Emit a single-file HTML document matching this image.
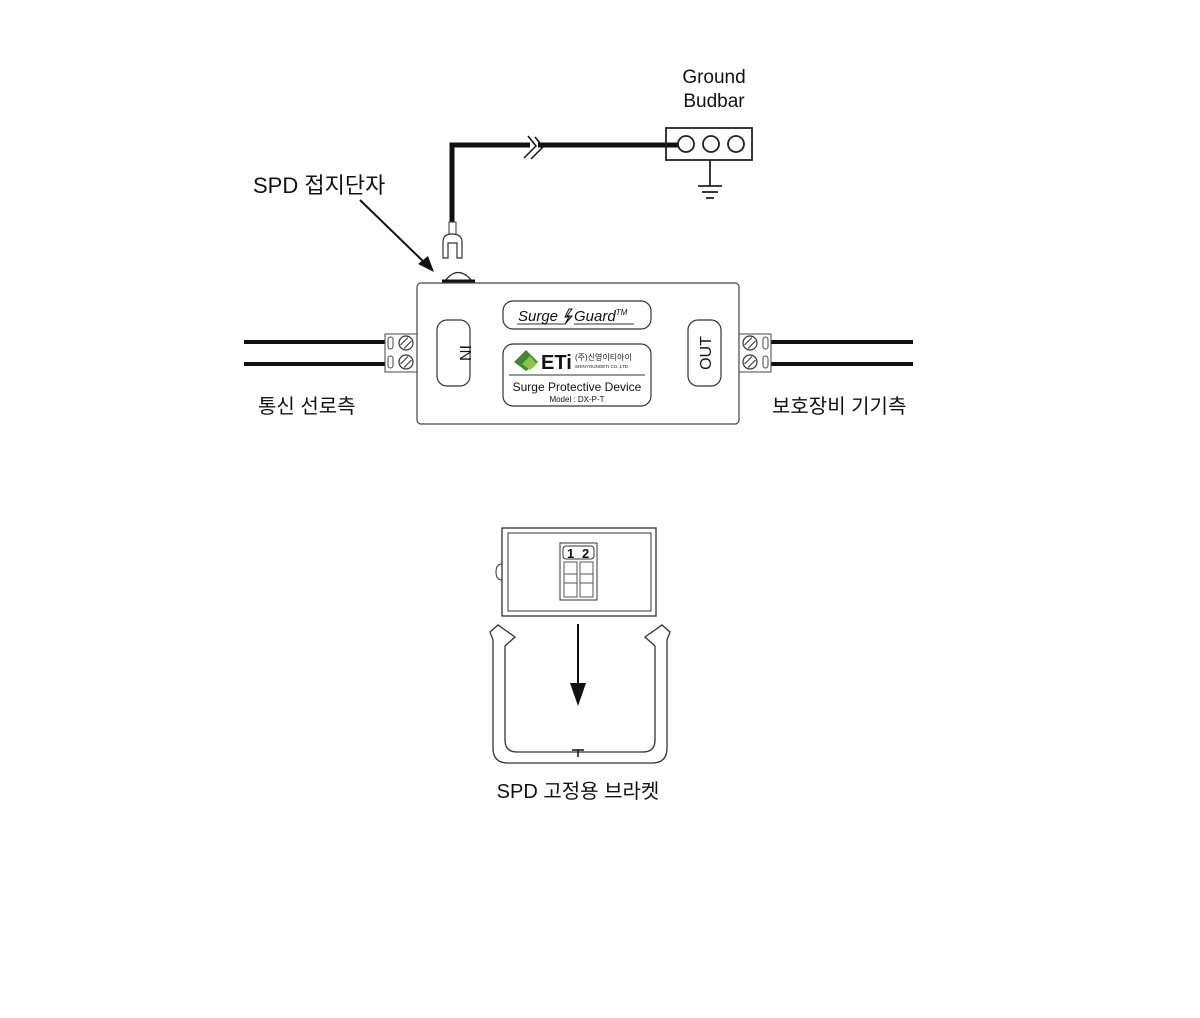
<!DOCTYPE html>
<html><head><meta charset="utf-8"><style>
html,body{margin:0;padding:0;background:#fff}
svg{display:block}
text{font-family:"Liberation Sans","Noto Sans CJK KR",sans-serif;fill:#111}
</style></head><body>
<svg width="1200" height="1018" viewBox="0 0 1200 1018" xmlns="http://www.w3.org/2000/svg">
<defs>
<g id="screw"><circle r="7" fill="#fff" stroke="#333" stroke-width="1.2"/><line x1="-5.5" y1="2" x2="2" y2="-5.5" stroke="#333" stroke-width="1.1"/><line x1="-2" y1="5.5" x2="5.5" y2="-2" stroke="#333" stroke-width="1.1"/></g>
</defs>
<!-- labels -->
<text x="714" y="83" font-size="19" text-anchor="middle">Ground</text>
<text x="714" y="107" font-size="19" text-anchor="middle">Budbar</text>
<text x="253" y="193" font-size="22">SPD 접지단자</text>
<text x="258" y="413" font-size="20">통신 선로측</text>
<text x="772" y="413" font-size="20">보호장비 기기측</text>
<text x="578" y="798" font-size="20" text-anchor="middle">SPD 고정용 브라켓</text>

<!-- ground wire -->
<polyline points="452,222 452,145 530,145" fill="none" stroke="#111" stroke-width="5"/>
<line x1="538" y1="145" x2="680" y2="145" stroke="#111" stroke-width="5"/>
<path d="M524,158 L536,146 L528,136 M531,159 L543,147 L535,137" fill="none" stroke="#111" stroke-width="1.5"/>
<rect x="666" y="128" width="86" height="32" fill="none" stroke="#222" stroke-width="1.8"/>
<circle cx="686" cy="144" r="8" fill="#fff" stroke="#222" stroke-width="1.8"/>
<circle cx="711" cy="144" r="8" fill="#fff" stroke="#222" stroke-width="1.8"/>
<circle cx="736" cy="144" r="8" fill="#fff" stroke="#222" stroke-width="1.8"/>
<line x1="710" y1="160" x2="710" y2="186" stroke="#222" stroke-width="1.8"/>
<line x1="698" y1="186" x2="722" y2="186" stroke="#222" stroke-width="1.8"/>
<line x1="702" y1="192" x2="718" y2="192" stroke="#222" stroke-width="1.8"/>
<line x1="706" y1="198" x2="714" y2="198" stroke="#222" stroke-width="1.8"/>
<!-- fork -->
<rect x="449" y="222" width="7" height="12" fill="#fff" stroke="#333" stroke-width="1"/>
<path d="M443,258 L443,242 Q443,234 452,234 Q462,234 462,242 L462,258 L457,258 L457,243 L448,243 L448,258 Z" fill="#fff" stroke="#333" stroke-width="1.2"/>
<!-- dome -->
<path d="M445,281 Q458,264 472,281" fill="#fff" stroke="#222" stroke-width="1.3"/>
<line x1="442" y1="281" x2="475" y2="281" stroke="#111" stroke-width="3"/>
<!-- arrow -->
<line x1="360" y1="200" x2="428" y2="266" stroke="#111" stroke-width="2"/>
<polygon points="434,272 418,264 428,256" fill="#111"/>

<!-- wires -->
<line x1="244" y1="342" x2="388" y2="342" stroke="#111" stroke-width="4"/>
<line x1="244" y1="364" x2="388" y2="364" stroke="#111" stroke-width="4"/>
<line x1="768" y1="342" x2="913" y2="342" stroke="#111" stroke-width="4"/>
<line x1="768" y1="364" x2="913" y2="364" stroke="#111" stroke-width="4"/>
<!-- terminal blocks -->
<rect x="385" y="334" width="32" height="38" fill="#fff" stroke="#444" stroke-width="1"/>
<rect x="388" y="337" width="5" height="12" rx="2.5" fill="#fff" stroke="#444"/>
<rect x="388" y="356" width="5" height="12" rx="2.5" fill="#fff" stroke="#444"/>
<use href="#screw" x="406" y="343"/><use href="#screw" x="406" y="362"/>
<rect x="739" y="334" width="32" height="38" fill="#fff" stroke="#444" stroke-width="1"/>
<rect x="763" y="337" width="5" height="12" rx="2.5" fill="#fff" stroke="#444"/>
<rect x="763" y="356" width="5" height="12" rx="2.5" fill="#fff" stroke="#444"/>
<use href="#screw" x="750" y="343"/><use href="#screw" x="750" y="362"/>

<!-- main box -->
<rect x="417" y="283" width="322" height="141" rx="4" fill="#fff" stroke="#444" stroke-width="1.2"/>
<rect x="437" y="320" width="33" height="66" rx="10" fill="#fff" stroke="#333" stroke-width="1.2"/>
<text transform="translate(460,353) rotate(90)" font-size="16" text-anchor="middle">IN</text>
<rect x="688" y="320" width="33" height="66" rx="10" fill="#fff" stroke="#333" stroke-width="1.2"/>
<text transform="translate(711,353) rotate(-90)" font-size="16" text-anchor="middle">OUT</text>
<rect x="503" y="301" width="148" height="28" rx="10" fill="#fff" stroke="#333" stroke-width="1.2"/>
<text x="518" y="321" font-size="15" font-style="italic">Surge</text>
<path d="M572,309 L567,316 L572,316 L565,324 L569,317 L565,317 L569,309 Z" fill="#fff" stroke="#111" stroke-width="1"/>
<text x="574" y="321" font-size="15" font-style="italic">Guard<tspan font-size="8" dy="-6">TM</tspan></text>
<line x1="517" y1="324" x2="566" y2="324" stroke="#333" stroke-width="1"/>
<line x1="574" y1="324" x2="634" y2="324" stroke="#333" stroke-width="1"/>
<rect x="503" y="344" width="148" height="62" rx="10" fill="#fff" stroke="#333" stroke-width="1.2"/>
<polygon points="514,362 526,350 538,362 526,371" fill="#3d8a2f"/>
<polygon points="522,364 530,356 537,364 530,370" fill="#8bc34a"/>
<text x="541" y="369" font-size="20" font-weight="bold" fill="#111">ETi</text>
<text x="575" y="360" font-size="8">(주)신영이티아이</text>
<text x="575" y="368" font-size="4.5">SHINYOUNGETI CO.,LTD</text>
<line x1="509" y1="375" x2="645" y2="375" stroke="#333" stroke-width="1"/>
<text x="577" y="391" font-size="12" text-anchor="middle">Surge Protective Device</text>
<text x="577" y="402" font-size="8" text-anchor="middle">Model : DX-P-T</text>

<!-- bracket module -->
<rect x="502" y="528" width="154" height="88" fill="#fff" stroke="#333" stroke-width="1.3"/>
<rect x="508" y="533" width="143" height="78" fill="none" stroke="#333" stroke-width="1"/>
<path d="M502,564 Q496,564 496,572 Q496,580 502,580" fill="none" stroke="#333" stroke-width="1"/>
<rect x="560" y="543" width="37" height="57" fill="#fff" stroke="#333" stroke-width="1"/>
<rect x="563" y="546" width="31" height="13" rx="3" fill="#fff" stroke="#333"/>
<text x="567" y="558" font-size="13" font-weight="bold">1</text><text x="582" y="558" font-size="13" font-weight="bold">2</text>
<rect x="564" y="562" width="13" height="35" fill="#fff" stroke="#555"/>
<rect x="580" y="562" width="13" height="35" fill="#fff" stroke="#555"/>
<rect x="564" y="574" width="13" height="9" fill="#fff" stroke="#555"/>
<rect x="580" y="574" width="13" height="9" fill="#fff" stroke="#555"/>
<!-- arrow down -->
<line x1="578" y1="624" x2="578" y2="686" stroke="#111" stroke-width="2"/>
<polygon points="570,683 586,683 578,706" fill="#111"/>
<!-- U bracket -->
<path d="M490,632 L498,625 L515,637 L505,646 L505,740 Q505,752 517,752 L643,752 Q655,752 655,740 L655,646 L645,637 L662,625 L670,632 L667,640 L667,748 Q667,763 652,763 L508,763 Q493,763 493,748 L493,640 Z" fill="none" stroke="#333" stroke-width="1.3"/>
<line x1="572" y1="750" x2="584" y2="750" stroke="#111" stroke-width="1.5"/>
<line x1="578" y1="750" x2="578" y2="757" stroke="#111" stroke-width="1.5"/>
</svg>
</body></html>
